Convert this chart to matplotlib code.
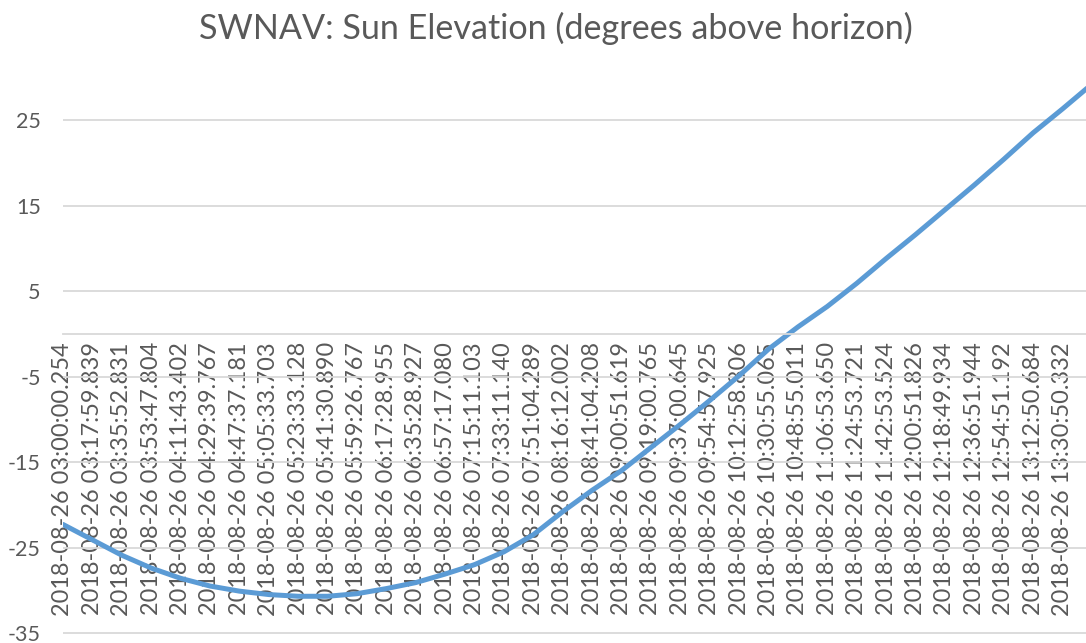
import numpy as np
import matplotlib.pyplot as plt

plt.rcParams['font.family'] = ['Lato', 'DejaVu Sans']
plt.rcParams['axes.unicode_minus'] = False

day = '2018-08-26'
times = ['03:00:00.254', '03:17:59.839', '03:35:52.831', '03:53:47.804',
         '04:11:43.402', '04:29:39.767', '04:47:37.181', '05:05:33.703',
         '05:23:33.128', '05:41:30.890', '05:59:26.767', '06:17:28.955',
         '06:35:28.927', '06:57:17.080', '07:15:11.103', '07:33:11.140',
         '07:51:04.289', '08:16:12.002', '08:41:04.208', '09:00:51.619',
         '09:19:00.765', '09:37:00.645', '09:54:57.925', '10:12:58.806',
         '10:30:55.065', '10:48:55.011', '11:06:53.650', '11:24:53.721',
         '11:42:53.524', '12:00:51.826', '12:18:49.934', '12:36:51.944',
         '12:54:51.192', '13:12:50.684', '13:30:50.332']
# one value per labelled sample, plus the last reading just past the right edge
elevation = [-22.3, -24.1, -25.9, -27.4, -28.6, -29.5, -30.1, -30.5,
             -30.7, -30.7, -30.4, -29.8, -29.1, -28.1, -27.0, -25.5,
             -23.5, -20.8, -18.3, -16.0, -13.3, -10.6, -7.8, -4.9,
             -1.8, 0.8, 3.2, 5.9, 8.8, 11.6, 14.5, 17.4,
             20.4, 23.5, 26.3, 29.2]

labels = [day + ' ' + t for t in times]
grey = '#595959'

fig = plt.figure(figsize=(10.86, 6.43), dpi=100)
ax = fig.add_axes([63 / 1086, 7.4 / 643, 1 - 63 / 1086, 575.4 / 643])

# category axis crosses at 0, like the Excel original
for side in ['top', 'right', 'left']:
    ax.spines[side].set_visible(False)
ax.spines['bottom'].set_position(('data', 0))
ax.spines['bottom'].set_color('#d9d9d9')
ax.spines['bottom'].set_linewidth(1.3)

ax.plot(np.arange(len(elevation)), elevation, color='#5b9bd5', lw=3.6,
        solid_capstyle='round')

ax.set_xlim(0, 34.8)
ax.set_ylim(-35.3, 32)
ax.set_yticks(np.arange(-35, 26, 10))
ax.set_xticks(np.arange(len(labels)), labels)

ax.grid(axis='y', color='#d9d9d9', lw=1.3)
ax.set_axisbelow(True)

ax.tick_params(axis='x', length=0, pad=6, labelsize=16.9, labelcolor=grey,
               labelrotation=90)
ax.tick_params(axis='y', length=0, pad=16, labelsize=15.5, labelcolor=grey)

fig.text(556 / 1086, 1 - 39 / 643, 'SWNAV: Sun Elevation (degrees above horizon)',
         ha='center', va='baseline', fontsize=24.6, color=grey)

fig.savefig('out.png', dpi=100)
